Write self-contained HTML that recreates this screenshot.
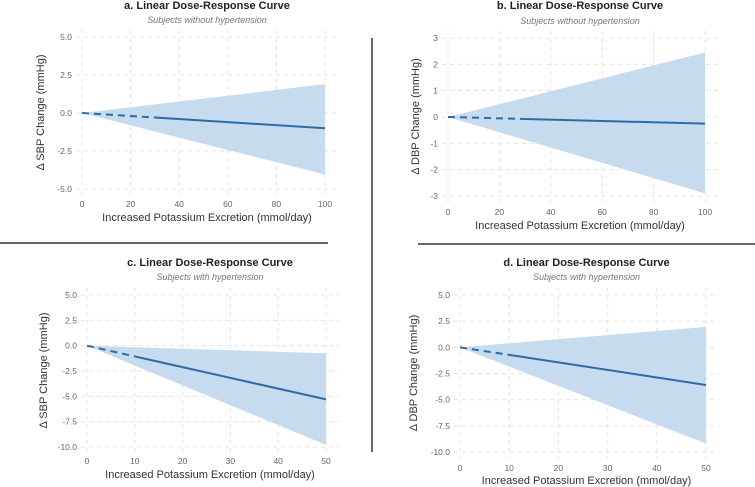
<!DOCTYPE html>
<html><head><meta charset="utf-8"><style>
body{margin:0;background:#fff;}
svg{display:block;font-family:"Liberation Sans",sans-serif;}
</style></head><body>
<svg id="chart" width="755" height="487" viewBox="0 0 755 487">
<line x1="372" y1="38" x2="372" y2="452" stroke="#666" stroke-width="2"/>
<line x1="0" y1="243" x2="328" y2="243" stroke="#666" stroke-width="2"/>
<line x1="418" y1="244" x2="755" y2="244" stroke="#666" stroke-width="2"/>
</svg>
<script>
// Panel data
const titles = ["a. Linear Dose-Response Curve","b. Linear Dose-Response Curve","c. Linear Dose-Response Curve","d. Linear Dose-Response Curve"];
const subtitles = ["Subjects without hypertension","Subjects without hypertension","Subjects with hypertension","Subjects with hypertension"];
const yTitles = ["Δ SBP Change (mmHg)","Δ DBP Change (mmHg)","Δ SBP Change (mmHg)","Δ DBP Change (mmHg)"];
const xTicksA = [0,20,40,60,80,100];
const xTicksC = [0,10,20,30,40,50];
const yTicksA = [5.0,2.5,0.0,-2.5,-5.0];
const yTicksB = [3,2,1,0,-1,-2,-3];
const yTicksC = [5.0,2.5,0.0,-2.5,-5.0,-7.5,-10.0];
const xValsA = [0,100];
const xValsC = [0,50];
const lineA = [0,-1.0], upperA = [0,1.9], lowerA = [0,-4.05];
const lineB = [0,-0.25], upperB = [0,2.45], lowerB = [0,-2.9];
const lineC = [0,-5.3], upperC = [0,-0.75], lowerC = [0,-9.8];
const lineD = [0,-3.6], upperD = [0,1.95], lowerD = [0,-9.2];
const dashEnds = [30,30,11,11];

const panels = [
 {xt:xTicksA,yt:yTicksA,xs:xValsA,ln:lineA,up:upperA,lo:lowerA,dec:1,px:[82,325],py:[37,189],titleY:9,subY:23,tickY:207,axY:221,yTitleX:44},
 {xt:xTicksA,yt:yTicksB,xs:xValsA,ln:lineB,up:upperB,lo:lowerB,dec:0,px:[448,705],py:[38,196],titleY:9,subY:24,tickY:215,axY:229,yTitleX:419},
 {xt:xTicksC,yt:yTicksC,xs:xValsC,ln:lineC,up:upperC,lo:lowerC,dec:1,px:[87,326],py:[295,447],titleY:266,subY:280,tickY:464,axY:478,yTitleX:47},
 {xt:xTicksC,yt:yTicksC,xs:xValsC,ln:lineD,up:upperD,lo:lowerD,dec:1,px:[460,706],py:[295,452],titleY:266,subY:280,tickY:471,axY:484,yTitleX:417}
];
const NS="http://www.w3.org/2000/svg";
const svg=document.getElementById('chart');
function mk(tag,attrs,parent){const e=document.createElementNS(NS,tag);for(const k in attrs)e.setAttribute(k,attrs[k]);(parent||svg).appendChild(e);return e;}
panels.forEach((p,i)=>{
 const g=mk('g',{});
 
 
 const xmin=p.xt[0],xmax=p.xt[p.xt.length-1];
 const ymax=p.yt[0],ymin=p.yt[p.yt.length-1];
 const X=v=>p.px[0]+(v-xmin)/(xmax-xmin)*(p.px[1]-p.px[0]);
 const Y=v=>p.py[0]+(ymax-v)/(ymax-ymin)*(p.py[1]-p.py[0]);
 const gl=p.px[0]-6,gr=p.px[1]+13,gt=p.py[0]-7,gb=p.py[1]+6;
 const cx=(gl+gr)/2;
 p.yt.forEach(v=>{
  const l=mk('line',{x1:gl,x2:gr,y1:Y(v),y2:Y(v),stroke:'#e3e3e3','stroke-dasharray':'4 4','stroke-width':1},g);
  
  
  const t=mk('text',{x:gl-4,y:Y(v)+3,'text-anchor':'end','font-size':8.5,fill:'#666'},g);
  t.textContent=v.toFixed(p.dec);
  
  
 });
 p.xt.forEach(v=>{
  const l=mk('line',{x1:X(v),x2:X(v),y1:gt,y2:gb,stroke:'#e3e3e3','stroke-dasharray':'4 4','stroke-width':1},g);
  
  
  const t=mk('text',{x:X(v),y:p.tickY,'text-anchor':'middle','font-size':8.5,fill:'#666'},g);
  t.textContent=v;
  
  
 });
 const poly=mk('polygon',{points:`${X(p.xs[0])},${Y(p.up[0])} ${X(p.xs[1])},${Y(p.up[1])} ${X(p.xs[1])},${Y(p.lo[1])} ${X(p.xs[0])},${Y(p.lo[0])}`,fill:'#c6dcee'},g);
 
 
 const slope=(p.ln[1]-p.ln[0])/(p.xs[1]-p.xs[0]);
 const d=dashEnds[i];
 const dl=mk('line',{x1:X(p.xs[0]),y1:Y(p.ln[0]),x2:X(d),y2:Y(p.ln[0]+slope*d),stroke:'#2d6ba7','stroke-width':2,'stroke-dasharray':'7 5'},g);
 
 
 const sl=mk('line',{x1:X(d),y1:Y(p.ln[0]+slope*d),x2:X(p.xs[1]),y2:Y(p.ln[1]),stroke:'#2d6ba7','stroke-width':2},g);
 
 
 const tt=mk('text',{x:cx,y:p.titleY,'text-anchor':'middle','font-size':11,'font-weight':'bold',fill:'#222'},g);
 tt.textContent=titles[i];
 
 
 const st=mk('text',{x:cx,y:p.subY,'text-anchor':'middle','font-size':9,'font-style':'italic',fill:'#777'},g);
 st.textContent=subtitles[i];
 
 
 const xa=mk('text',{x:cx,y:p.axY,'text-anchor':'middle','font-size':11,fill:'#333'},g);
 xa.textContent="Increased Potassium Excretion (mmol/day)";
 
 
 const my=(gt+gb)/2;
 const ya=mk('text',{x:p.yTitleX,y:my,'text-anchor':'middle','font-size':11,fill:'#333',transform:`rotate(-90 ${p.yTitleX} ${my})`},g);
 ya.textContent=yTitles[i];
 
 
});
</script>
</body></html>
